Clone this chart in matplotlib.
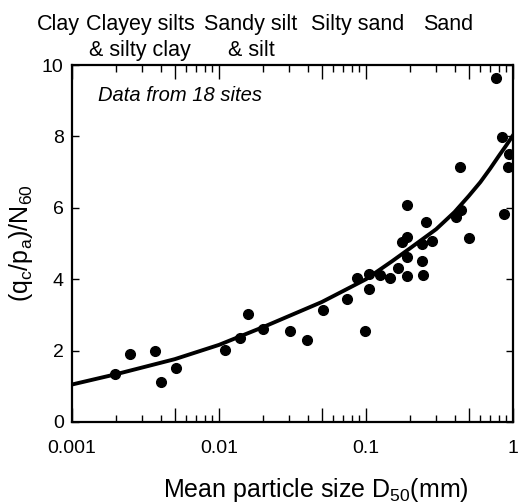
import numpy as np
from matplotlib import pyplot as plt
from matplotlib.ticker import FixedLocator, FixedFormatter, NullFormatter

# scatter data: D50 (mm) and (qc/pa)/N60
d50 = [0.00197, 0.00247, 0.00365, 0.0040, 0.0051, 0.0110, 0.0139, 0.0157, 0.0198,
       0.0304, 0.0399, 0.0513, 0.0747, 0.0865, 0.0985, 0.105, 0.105, 0.124, 0.146,
       0.164, 0.177, 0.189, 0.191, 0.190, 0.191, 0.255, 0.240, 0.242, 0.245, 0.280,
       0.407, 0.440, 0.437, 0.502, 0.762, 0.837, 0.869, 0.925, 0.945]
ratio = [1.34, 1.90, 2.00, 1.13, 1.52, 2.02, 2.36, 3.02, 2.60,
         2.56, 2.30, 3.14, 3.45, 4.02, 2.55, 4.15, 3.72, 4.12, 4.02,
         4.30, 5.05, 6.08, 5.18, 4.63, 4.08, 5.60, 5.00, 4.50, 4.12, 5.07,
         5.75, 5.94, 7.15, 5.16, 9.63, 7.99, 5.82, 7.15, 7.50]

# trend curve
curve_d = [0.001, 0.002, 0.005, 0.01, 0.02, 0.03, 0.05, 0.07, 0.1, 0.15, 0.2,
           0.3, 0.4, 0.5, 0.6, 0.7, 0.8, 0.9, 1.0]
curve_r = [1.05, 1.34, 1.76, 2.16, 2.66, 2.97, 3.36, 3.67, 4.00, 4.50, 4.87,
           5.40, 5.88, 6.33, 6.72, 7.10, 7.45, 7.75, 8.03]

soil_top = ['Clay', 'Clayey silts', 'Sandy silt', 'Silty sand', 'Sand']
soil_bottom = ['', '& silty clay', '& silt', '', '']
soil_x_px = [58, 140, 251, 358, 448]

plt.rcParams['font.family'] = ['Liberation Sans', 'DejaVu Sans']
plt.rcParams['mathtext.fontset'] = 'custom'
plt.rcParams['mathtext.rm'] = 'Liberation Sans'
plt.rcParams['mathtext.it'] = 'Liberation Sans'

W, H = 519, 504
fig = plt.figure(figsize=(W / 100, H / 100), dpi=100)
ax = fig.add_axes([72 / W, 1 - 422 / H, (513 - 72) / W, (422 - 65) / H])

ax.plot(d50, ratio, 'o', color='black', markersize=7, zorder=3)
ax.plot(curve_d, curve_r, '-', color='black', linewidth=2.8,
        solid_joinstyle='round')

ax.set_xscale('log')
ax.set_xlim(0.001, 1)
ax.set_ylim(0, 10)

major = [0.001, 0.005, 0.01, 0.05, 0.1, 0.5, 1]
labels = ['0.001', '', '0.01', '', '0.1', '', '1']
ax.xaxis.set_major_locator(FixedLocator(major))
ax.xaxis.set_major_formatter(FixedFormatter(labels))
minor = [m * 10.0 ** e for e in (-3, -2, -1) for m in (2, 3, 4, 6, 7, 8, 9)]
ax.xaxis.set_minor_locator(FixedLocator(minor))
ax.xaxis.set_minor_formatter(NullFormatter())
ax.set_yticks([0, 2, 4, 6, 8, 10])

ax.tick_params(which='both', direction='in', top=True, right=True, width=1.0,
               labelsize=14)
ax.tick_params(axis='x', which='major', length=10, pad=13)
ax.tick_params(axis='x', which='minor', length=5)
ax.tick_params(axis='y', which='major', length=5, pad=6)
for s in ax.spines.values():
    s.set_linewidth(1.6)

ax.set_xlabel('Mean particle size D$_{50}$(mm)', fontsize=18, va='baseline')
ax.xaxis.set_label_coords(0.553, -0.21)
ax.set_ylabel('(q$_c$/p$_a$)/N$_{60}$', fontsize=18, labelpad=5)

ax.text(0.06, 0.915, 'Data from 18 sites', transform=ax.transAxes,
        fontsize=14.5, style='italic', va='center')

for t, b, x in zip(soil_top, soil_bottom, soil_x_px):
    fig.text(x / W, 1 - 30 / H, t, ha='center', va='baseline', fontsize=15.5)
    if b:
        fig.text(x / W, 1 - 56 / H, b, ha='center', va='baseline', fontsize=15.5)

fig.savefig('out.png', dpi=100)
